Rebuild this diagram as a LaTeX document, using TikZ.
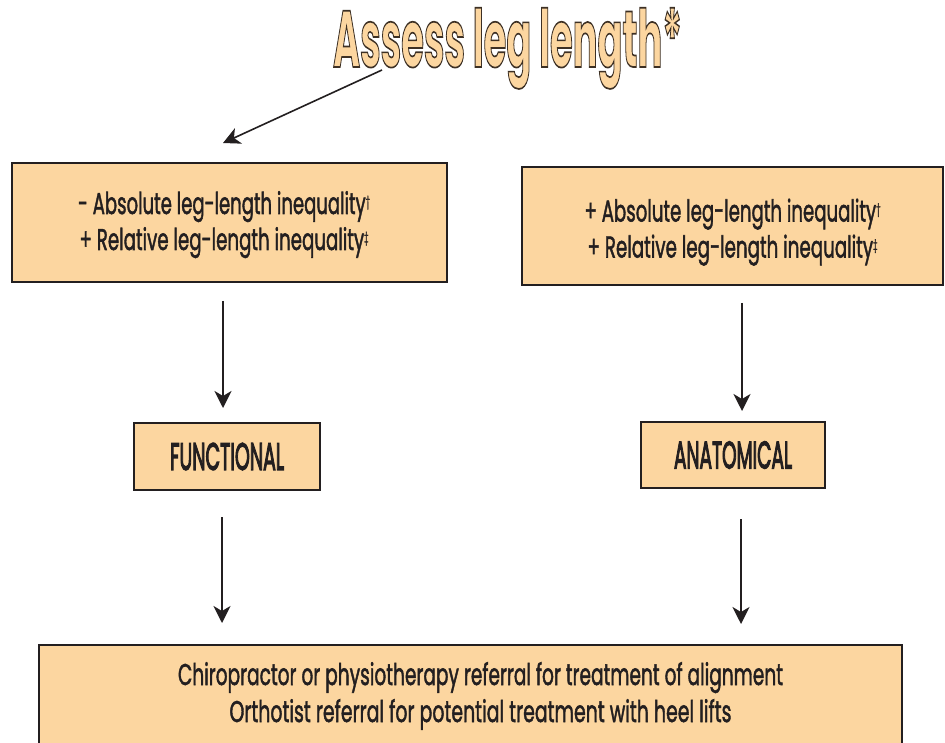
\documentclass[tikz,border=0pt]{standalone}
\usepackage{fontspec}
\setmainfont{Poppins}
\newfontfamily\medfont[FakeBold=2]{Poppins}
\newfontfamily\semifont[FakeBold=4]{Poppins}
\usepackage{graphicx}
\usetikzlibrary{arrows.meta}
\definecolor{boxfill}{RGB}{252,214,160}
\definecolor{boxline}{RGB}{35,31,32}
\newcommand\fitw[2]{\resizebox{#1}{\height}{#2}}
\newcommand\txtline[3]{\smash{\fitw{#2}{#3}}\rule{0pt}{#1}}
\newcommand\dg[1]{\smash{\fontsize{13}{13}\selectfont\raisebox{8pt}{#1}}}
\newcommand\outl[1]{{\color{boxfill}\special{pdf:literal direct 2 Tr 1.7 w 0.24 0.19 0.14 RG}#1\special{pdf:literal direct 0 Tr}}}
\tikzset{
  box/.style={draw=boxline, line width=2pt, fill=boxfill, rectangle, inner sep=0pt, align=center,
    font=\fontsize{30}{36}\selectfont\medfont, text=boxline},
  catbox/.style={box, font=\fontsize{38}{40}\selectfont\semifont},
  arr/.style={draw=boxline, line width=1.6pt, -{Stealth[length=17pt,width=17pt,inset=5pt]}},
}
\begin{document}
\begin{tikzpicture}[x=1pt,y=-1pt]
\clip (0,0) rectangle (945,743);
\useasboundingbox (0,0) rectangle (945,743);
\fill[white] (0,0) rectangle (945,743);

\node[anchor=base, inner sep=0pt, font=\fontsize{80}{80}\selectfont\bfseries] (title) at (507.5,67)
  {\fitw{349pt}{\outl{Assess leg length*}}};

\node[box, minimum width=435pt, minimum height=119pt] (b1) at (229.5,222.5)
  {\txtline{19pt}{292pt}{- Absolute leg-length inequality\dg{†}}\hspace*{11pt}\\
   \txtline{0pt}{289pt}{+ Relative leg-length inequality\dg{‡}}\hspace*{11pt}};
\node[box, minimum width=421pt, minimum height=118pt] (b2) at (732.5,226)
  {\txtline{27pt}{296pt}{+ Absolute leg-length inequality\dg{†}}\\
   \txtline{0pt}{290pt}{+ Relative leg-length inequality\dg{‡}}};

\node[catbox, minimum width=186pt, minimum height=67pt] (func) at (227,456.5)
  {\fitw{114pt}{FUNCTIONAL}};
\node[catbox, minimum width=184pt, minimum height=66pt] (anat) at (733,455)
  {\fitw{118pt}{ANATOMICAL}};

\node[box, minimum width=863pt, minimum height=99pt, font=\fontsize{30}{37}\selectfont\medfont] (bot) at (470.5,694.5)
  {\hspace*{20pt}\txtline{18pt}{605pt}{Chiropractor or physiotherapy referral for treatment of alignment}\\
   \hspace*{20pt}\txtline{0pt}{502pt}{Orthotist referral for potential treatment with heel lifts}};

\coordinate (ts) at (382,70);
\coordinate (te) at (223,143);
\draw[arr] (ts) -- (te);

\draw[arr, shorten <=18pt, shorten >=14pt] ([xshift=-6.5pt]b1.south) -- ([xshift=-4pt]func.north);
\draw[arr, shorten <=17pt, shorten >=10pt] ([xshift=9.5pt]b2.south) -- ([xshift=9pt]anat.north);
\draw[arr, shorten <=26pt, shorten >=21pt] ([xshift=-5pt]func.south) -- ([xshift=-248.5pt]bot.north);
\draw[arr, shorten <=30pt, shorten >=20pt] ([xshift=8pt]anat.south) -- ([xshift=270.5pt]bot.north);
\end{tikzpicture}
\end{document}
